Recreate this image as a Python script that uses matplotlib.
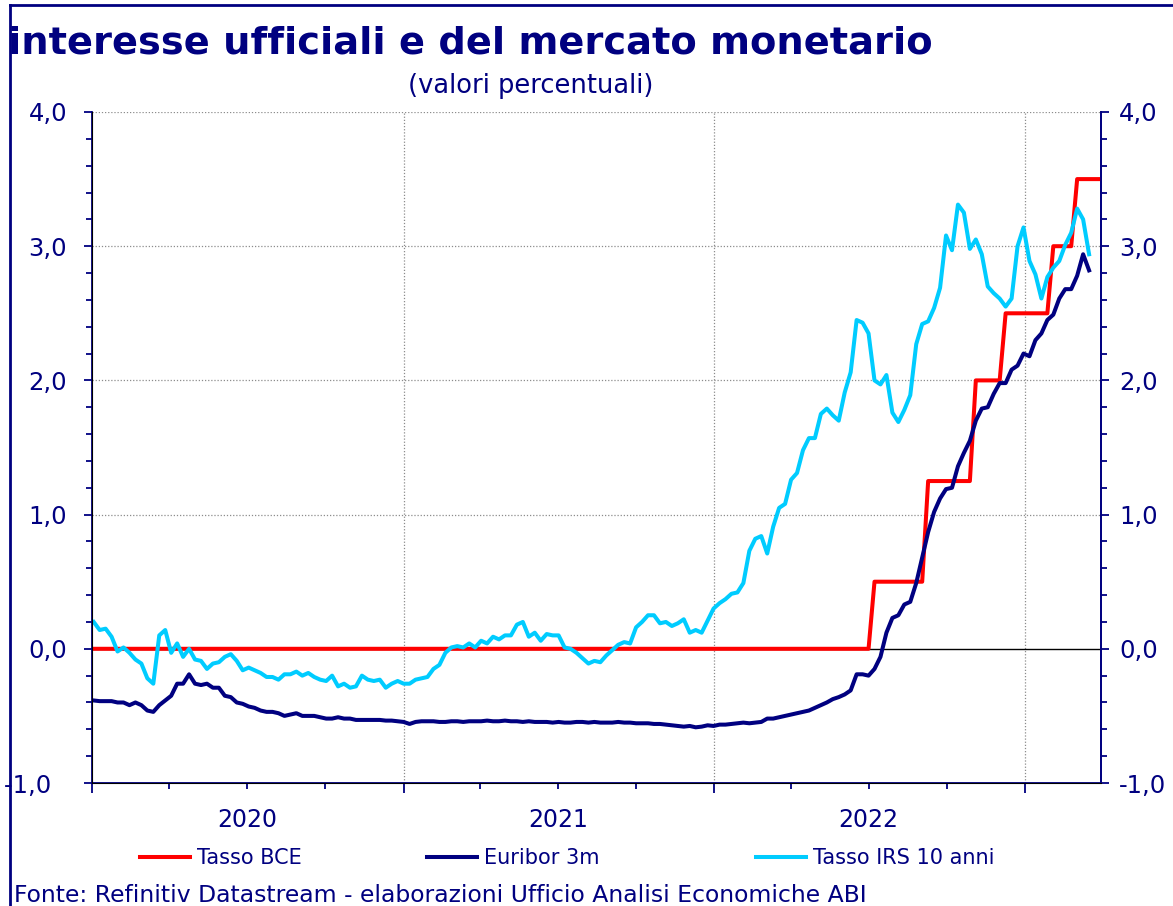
import numpy as np
import pandas as pd
import matplotlib
matplotlib.use("Agg")
import matplotlib.pyplot as plt  # noqa: E402
import matplotlib.dates as mdates  # noqa: E402
from matplotlib.ticker import FixedLocator, MultipleLocator, FuncFormatter  # noqa: E402
from matplotlib.lines import Line2D  # noqa: E402

NAVY = "#000080"
CYAN = "#00CCFF"
RED = "#FF0000"

# weekly observations (Fridays) from 3 Jan 2020
irs_10y = [
    0.20, 0.14, 0.15, 0.09, -0.02, 0.01, -0.03, -0.08, -0.11, -0.22,
    -0.26, 0.10, 0.14, -0.03, 0.04, -0.06, 0.00, -0.08, -0.09, -0.15,
    -0.11, -0.10, -0.06, -0.04, -0.09, -0.16, -0.14, -0.16, -0.18, -0.21,
    -0.21, -0.23, -0.19, -0.19, -0.17, -0.20, -0.18, -0.21, -0.23, -0.24,
    -0.20, -0.28, -0.26, -0.29, -0.28, -0.20, -0.23, -0.24, -0.23, -0.29,
    -0.26, -0.24, -0.26, -0.26, -0.23, -0.22, -0.21, -0.15, -0.12, -0.03,
    0.01, 0.02, 0.01, 0.04, 0.01, 0.06, 0.04, 0.09, 0.07, 0.10,
    0.10, 0.18, 0.20, 0.09, 0.12, 0.06, 0.11, 0.10, 0.10, 0.01,
    0.00, -0.03, -0.07, -0.11, -0.09, -0.10, -0.05, -0.01, 0.03, 0.05,
    0.04, 0.16, 0.20, 0.25, 0.25, 0.19, 0.20, 0.17, 0.19, 0.22,
    0.12, 0.14, 0.12, 0.21, 0.30, 0.34, 0.37, 0.41, 0.42, 0.49,
    0.73, 0.82, 0.84, 0.71, 0.91, 1.05, 1.08, 1.26, 1.31, 1.48,
    1.57, 1.57, 1.75, 1.79, 1.74, 1.70, 1.91, 2.06, 2.45, 2.43,
    2.35, 2.00, 1.97, 2.04, 1.76, 1.69, 1.78, 1.89, 2.27, 2.42,
    2.44, 2.54, 2.69, 3.08, 2.97, 3.31, 3.25, 2.98, 3.05, 2.94,
    2.70, 2.65, 2.61, 2.55, 2.61, 3.00, 3.14, 2.89, 2.79, 2.61,
    2.77, 2.84, 2.89, 3.01, 3.10, 3.28, 3.20, 2.94,
]

euribor_3m = [
    -0.385, -0.39, -0.39, -0.39, -0.40, -0.40, -0.42, -0.40, -0.42, -0.46,
    -0.47, -0.42, -0.385, -0.35, -0.26, -0.26, -0.19, -0.26, -0.27, -0.26,
    -0.29, -0.29, -0.35, -0.36, -0.40, -0.41, -0.43, -0.44, -0.46, -0.47,
    -0.47, -0.48, -0.50, -0.49, -0.48, -0.50, -0.50, -0.50, -0.51, -0.52,
    -0.52, -0.51, -0.52, -0.52, -0.53, -0.53, -0.53, -0.53, -0.53, -0.535,
    -0.535, -0.54, -0.545, -0.56, -0.545, -0.54, -0.54, -0.54, -0.545, -0.545,
    -0.54, -0.54, -0.545, -0.54, -0.54, -0.54, -0.535, -0.54, -0.54, -0.535,
    -0.54, -0.54, -0.545, -0.54, -0.545, -0.545, -0.545, -0.55, -0.545, -0.55,
    -0.55, -0.545, -0.545, -0.55, -0.545, -0.55, -0.55, -0.55, -0.545, -0.55,
    -0.55, -0.555, -0.555, -0.555, -0.56, -0.56, -0.565, -0.57, -0.575, -0.58,
    -0.575, -0.585, -0.58, -0.57, -0.575, -0.565, -0.565, -0.56, -0.555, -0.55,
    -0.555, -0.55, -0.545, -0.52, -0.52, -0.51, -0.50, -0.49, -0.48, -0.47,
    -0.46, -0.44, -0.42, -0.40, -0.375, -0.36, -0.34, -0.31, -0.19, -0.19,
    -0.20, -0.15, -0.06, 0.12, 0.23, 0.25, 0.33, 0.35, 0.49, 0.68,
    0.87, 1.02, 1.12, 1.19, 1.20, 1.36, 1.46, 1.55, 1.70, 1.79,
    1.80, 1.90, 1.98, 1.98, 2.08, 2.11, 2.20, 2.18, 2.30, 2.35,
    2.45, 2.49, 2.61, 2.68, 2.68, 2.78, 2.94, 2.82,
]

# ECB main refinancing rate: level and number of weeks at that level
ecb_levels = [0.0, 0.5, 1.25, 2.0, 2.5, 3.0, 3.5]
ecb_weeks = [131, 9, 8, 5, 8, 4, 5]

ytick_vals = [-1.0, 0.0, 1.0, 2.0, 3.0, 4.0]
year_starts = ["2020-01-01", "2021-01-01", "2022-01-01", "2023-01-01"]

dates = pd.date_range("2020-01-03", periods=len(irs_10y), freq="7D")
ecb = np.repeat(ecb_levels, ecb_weeks)
ecb_dates = pd.date_range("2020-01-03", periods=len(ecb), freq="7D")

fig = plt.figure(figsize=(11.73, 9.06), dpi=100)
ax = fig.add_axes([92 / 1173, 1 - 783 / 906, (1101 - 92) / 1173, (783 - 112) / 906])

ax.axhline(0, color="black", lw=1.0, zorder=1)
l_ecb, = ax.plot(ecb_dates, ecb, color=RED, lw=2.9, zorder=3, label="Tasso BCE")
l_eur, = ax.plot(dates, euribor_3m, color=NAVY, lw=2.9, zorder=4, label="Euribor 3m")
l_irs, = ax.plot(dates, irs_10y, color=CYAN, lw=2.9, zorder=5, label="Tasso IRS 10 anni")

ax.set_xlim(pd.Timestamp("2020-01-01"), pd.Timestamp("2023-03-31"))
ax.set_ylim(-1.0, 4.0)

# horizontal + vertical dotted grid
for v in ytick_vals[2:]:
    ax.axhline(v, color="#8c8c8c", lw=0.9, ls=(0, (1, 1.5)), zorder=0)
for d in year_starts[1:]:
    ax.axvline(pd.Timestamp(d), color="#8c8c8c", lw=0.9, ls=(0, (1, 1.5)), zorder=0)

ax.spines["top"].set_visible(False)
for side in ["left", "right", "bottom"]:
    ax.spines[side].set_color(NAVY)
    ax.spines[side].set_linewidth(1.3)


def fmt_left(v, pos):
    s = f"{v:.1f}".replace(".", ",")
    return s + "  " if v < 0 else s


def fmt_right(v, pos):
    return f"{v:.1f}".replace(".", ",")


ax.yaxis.set_major_locator(FixedLocator(ytick_vals))
ax.yaxis.set_minor_locator(MultipleLocator(0.2))
ax.yaxis.set_major_formatter(FuncFormatter(fmt_left))
ax.tick_params(axis="y", which="major", direction="out", length=6, width=1.3,
               colors=NAVY, labelsize=17.5, pad=12)
ax.tick_params(axis="y", which="minor", direction="out", length=4.5, width=1.3, colors=NAVY)

ax2 = ax.twinx()
ax2.set_ylim(-1.0, 4.0)
ax2.spines["top"].set_visible(False)
ax2.spines["right"].set_color(NAVY)
ax2.spines["right"].set_linewidth(1.3)
ax2.yaxis.set_major_locator(FixedLocator(ytick_vals))
ax2.yaxis.set_minor_locator(MultipleLocator(0.2))
ax2.yaxis.set_major_formatter(FuncFormatter(fmt_right))
ax2.tick_params(axis="y", which="major", direction="out", length=6, width=1.3,
                colors=NAVY, labelsize=17.5, pad=7)
ax2.tick_params(axis="y", which="minor", direction="out", length=4.5, width=1.3, colors=NAVY)

# x: year boundaries (major), quarters (minor), year label under July
ax.xaxis.set_major_locator(FixedLocator(mdates.date2num(pd.to_datetime(year_starts))))
ax.xaxis.set_major_formatter(FuncFormatter(lambda v, p: ""))
ax.xaxis.set_minor_locator(mdates.MonthLocator(bymonth=[4, 7, 10]))
ax.xaxis.set_minor_formatter(FuncFormatter(
    lambda v, p: str(mdates.num2date(v).year) if mdates.num2date(v).month == 7 else ""))
ax.tick_params(axis="x", which="major", direction="out", length=7, width=1.3, colors=NAVY)
ax.tick_params(axis="x", which="minor", direction="out", length=4, width=1.3, colors=NAVY,
               labelsize=17, pad=14)

# titles and notes
fig.text(8 / 1173, 1 - 53 / 906, "interesse ufficiali e del mercato monetario",
         fontsize=27.6, fontweight="bold", color=NAVY, ha="left", va="baseline")
fig.text(531 / 1173, 1 - 86 / 906, "(valori percentuali)", fontsize=18.5,
         color=NAVY, ha="center", va="center")
fig.text(14 / 1173, 1 - 902 / 906,
         "Fonte: Refinitiv Datastream - elaborazioni Ufficio Analisi Economiche ABI",
         fontsize=16.9, color=NAVY, ha="left", va="baseline")

# legend: one entry per slot, as in the original layout
for line, x0 in [(l_ecb, 140), (l_eur, 427), (l_irs, 756)]:
    leg = fig.legend(handles=[line], loc="center left",
                     bbox_to_anchor=(x0 / 1173, 1 - 858 / 906), frameon=False,
                     fontsize=15, handlelength=2.4, handletextpad=0.35,
                     borderpad=0, borderaxespad=0)
    for t in leg.get_texts():
        t.set_color(NAVY)

# outer frame (left and top edges)
fig.add_artist(Line2D([10 / 1173, 10 / 1173], [0, 1 - 5 / 906], color=NAVY, lw=2,
                      transform=fig.transFigure))
fig.add_artist(Line2D([10 / 1173, 1], [1 - 5 / 906, 1 - 5 / 906], color=NAVY, lw=2,
                      transform=fig.transFigure))

fig.savefig("out.png", dpi=100, facecolor="white")
